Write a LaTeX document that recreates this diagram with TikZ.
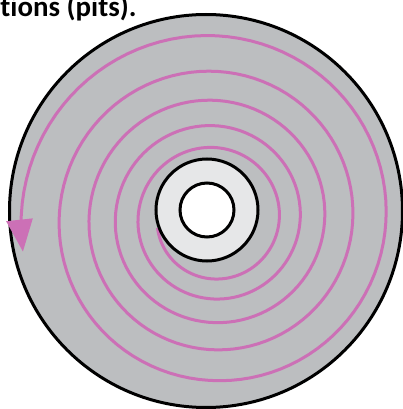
\documentclass[tikz,border=0pt]{standalone}
\usepackage{fontspec}
\setmainfont{Carlito}[Ligatures=NoCommon]
\usetikzlibrary{arrows.meta}
\definecolor{cd-disc}{HTML}{BCBEC0}
\definecolor{cd-hub}{HTML}{E6E7E8}
\definecolor{cd-track}{HTML}{CC70B6}

\begin{document}
\begin{tikzpicture}[x=1bp,y=1bp,line width=3bp,
  declare function={tr(\a)=(\a-270)/360;
    sr(\a)=61+18.2*tr(\a)+1.8*tr(\a)*tr(\a)+6*max(0,tr(\a)-4);}]
  \useasboundingbox (0,0) rectangle (403,409);
  \clip (0,0) rectangle (403,409);
  % Midtpunkter
  \coordinate (M) at (206,198);   % skive
  \coordinate (H) at (207,199);   % nav
  \coordinate (S) at (213.7,191); % spiral
  % Skive
  \draw[fill=cd-disc] (M) circle[radius=196.5];
  % Spor (spiral indefra og ud)
  \draw[cd-track,shift={(S)},-{Triangle[length=32bp,width=26bp]}]
    plot[domain=190:1990,samples=500,variable=\a] (\a:{sr(\a)});
  % Nav og hul
  \draw[fill=cd-hub] (H) circle[radius=51];
  \draw[fill=white] (H) circle[radius=27];
  % Tekst
  \node[font=\bfseries\fontsize{29}{34}\selectfont,anchor=base east,inner sep=0]
    (caption) at (138,392) {tions (pits).};
\end{tikzpicture}
\end{document}
